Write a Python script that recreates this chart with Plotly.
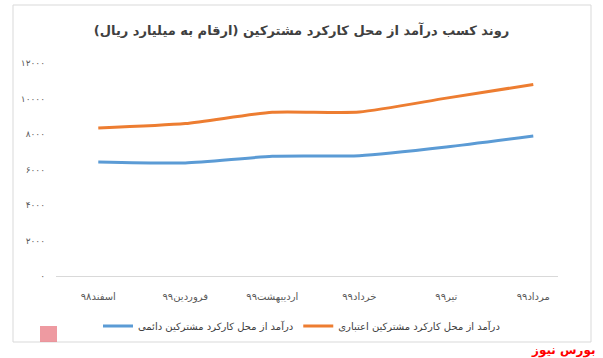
import plotly.graph_objects as go

categories = ["اسفند۹۸", "فروردین۹۹", "اردیبهشت۹۹", "خرداد۹۹", "تیر۹۹", "مرداد۹۹"]
permanent = [6420, 6370, 6740, 6780, 7270, 7890]
credit = [8340, 8590, 9230, 9240, 10020, 10790]
y_ticks = [0, 2000, 4000, 6000, 8000, 10000, 12000]
y_tick_labels = ["۰", "۲۰۰۰", "۴۰۰۰", "۶۰۰۰", "۸۰۰۰", "۱۰۰۰۰", "۱۲۰۰۰"]
name_permanent = "درآمد از محل کارکرد مشترکین دائمی"
name_credit = "درآمد از محل کارکرد مشترکین اعتباری"
title = "روند کسب درآمد از محل کارکرد مشترکین (ارقام به میلیارد ریال)"

x = list(range(len(categories)))

fig = go.Figure()
fig.add_trace(go.Scatter(x=x, y=permanent, name=name_permanent, mode="lines",
                         line=dict(color="#5B9BD5", width=3, shape="spline", smoothing=0.6)))
fig.add_trace(go.Scatter(x=x, y=credit, name=name_credit, mode="lines",
                         line=dict(color="#ED7D31", width=3, shape="spline", smoothing=0.6)))

W, H = 603, 358
L, R, T, B = 56, 45, 63, 82
pw, ph = W - L - R, H - T - B

def px(xp):
    return (xp - L) / pw

def py(yp):
    return (H - B - yp) / ph

fig.update_layout(
    width=W, height=H,
    margin=dict(l=L, r=R, t=T, b=B),
    paper_bgcolor="white", plot_bgcolor="white",
    font=dict(family="DejaVu Sans", color="#595959"),
    title=dict(text="<b>" + title + "</b>", x=0.5, xanchor="center", y=1 - 30 / H, yanchor="middle",
               font=dict(size=13, color="#404040", family="DejaVu Sans")),
    showlegend=True,
    legend=dict(orientation="h", x=px(98), xanchor="left", y=py(326), yanchor="middle",
                font=dict(size=10, color="#404040"), itemwidth=30,
                bgcolor="rgba(0,0,0,0)"),
    xaxis=dict(range=[-0.486, 5.284], tickvals=x, ticktext=categories, showgrid=False,
               zeroline=False, showline=True, linecolor="#D9D9D9", linewidth=1,
               ticks="", tickfont=dict(size=10, color="#595959"), ticklabelstandoff=11),
    yaxis=dict(range=[0, 12000], tickvals=y_ticks, ticktext=y_tick_labels, showgrid=False,
               zeroline=False, showline=False, ticks="",
               tickfont=dict(size=9, color="#595959"), ticklabelstandoff=10),
    shapes=[
        dict(type="rect", xref="paper", yref="paper", x0=px(13), x1=px(591), y0=py(342), y1=py(5),
             line=dict(color="#D9D9D9", width=1), fillcolor="rgba(0,0,0,0)", layer="below"),
        dict(type="rect", xref="paper", yref="paper", x0=px(40), x1=px(57), y0=py(342), y1=py(326),
             line=dict(width=0), fillcolor="rgba(232,120,130,0.75)", layer="below"),
    ],
    annotations=[dict(text="<b>بورس نیوز</b>", xref="paper", yref="paper", x=px(598), y=py(350),
                      xanchor="right", yanchor="middle", showarrow=False,
                      font=dict(size=12, color="#FF0000", family="DejaVu Sans"))],
)

fig.write_html("out.html", config={"displayModeBar": False},
               post_script="document.body.style.margin='0';document.body.style.padding='0';")
